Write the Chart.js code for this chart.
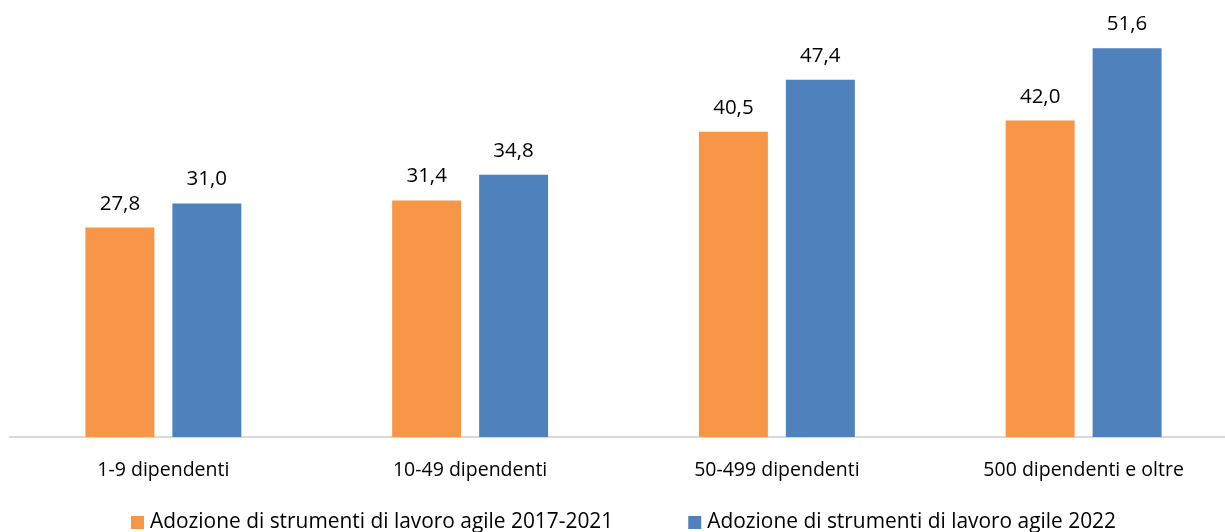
<!DOCTYPE html>
<html>
<head>
<meta charset="utf-8">
<title>Lavoro agile per classe di addetti</title>
<script src="https://cdn.jsdelivr.net/npm/chart.js@4/dist/chart.umd.min.js"></script>
<style>
  html, body { margin: 0; padding: 0; background: #fff; overflow: hidden; }
  #wrap { width: 1238px; height: 532px; }
</style>
</head>
<body>
<div id="wrap"><canvas id="chart" width="1238" height="532"></canvas></div>
<script>
const categories = ['1-9 dipendenti', '10-49 dipendenti', '50-499 dipendenti', '500 dipendenti e oltre'];
const seriesNames = ['Adozione di strumenti di lavoro agile 2017-2021', 'Adozione di strumenti di lavoro agile 2022'];
const values2017_2021 = [27.8, 31.4, 40.5, 42.0];
const values2022 = [31.0, 34.8, 47.4, 51.6];

const FONT = '"Open Sans", "Noto Sans", sans-serif';

// value labels above each bar, italian decimal comma
const valueLabels = {
  id: 'valueLabels',
  afterDatasetsDraw(chart) {
    const ctx = chart.ctx;
    ctx.save();
    ctx.font = '20.5px ' + FONT;
    ctx.fillStyle = '#000';
    ctx.textAlign = 'center';
    ctx.textBaseline = 'alphabetic';
    chart.data.datasets.forEach((ds, i) => {
      chart.getDatasetMeta(i).data.forEach((bar, j) => {
        const txt = ds.data[j].toFixed(1).replace('.', ',');
        ctx.fillText(txt, bar.x, bar.y - 18);
      });
    });
    ctx.restore();
  }
};

// legend row at the bottom, square swatch + text, centered
const bottomLegend = {
  id: 'bottomLegend',
  afterDraw(chart) {
    const ctx = chart.ctx;
    const box = 13, textGap = 6, itemGap = 75;
    ctx.save();
    ctx.font = '20.9px ' + FONT;
    ctx.textBaseline = 'alphabetic';
    ctx.textAlign = 'left';
    const items = chart.data.datasets.map(ds => ({
      text: ds.label, color: ds.backgroundColor, w: ctx.measureText(ds.label).width
    }));
    let total = 0;
    items.forEach((it, i) => { total += box + textGap + it.w + (i ? itemGap : 0); });
    let x = 623.5 - total / 2;
    const baseline = 528;
    items.forEach(it => {
      ctx.fillStyle = it.color;
      ctx.fillRect(x, baseline - 12, box, box);
      ctx.fillStyle = '#000';
      ctx.fillText(it.text, x + box + textGap, baseline);
      x += box + textGap + it.w + itemGap;
    });
    ctx.restore();
  }
};

new Chart(document.getElementById('chart'), {
  type: 'bar',
  data: {
    labels: categories,
    datasets: [{
      label: seriesNames[0],
      data: values2017_2021,
      backgroundColor: '#F79646'
    }, {
      label: seriesNames[1],
      data: values2022,
      backgroundColor: '#4F81BD'
    }]
  },
  options: {
    responsive: false,
    animation: false,
    events: [],
    categoryPercentage: 0.567,
    barPercentage: 0.793,
    layout: { padding: { left: 10, right: 1, top: 0, bottom: 0 } },
    plugins: {
      legend: { display: false },
      tooltip: { enabled: false }
    },
    scales: {
      x: {
        grid: { display: false, drawTicks: false },
        border: { display: true, color: '#D9D9D9', width: 2 },
        ticks: { color: '#000', font: { family: FONT, size: 19.5 }, padding: 22, maxRotation: 0 },
        afterFit(scale) { scale.height = 95; }
      },
      y: {
        display: false,
        min: 0,
        max: 58
      }
    }
  },
  plugins: [valueLabels, bottomLegend]
});
</script>
</body>
</html>
